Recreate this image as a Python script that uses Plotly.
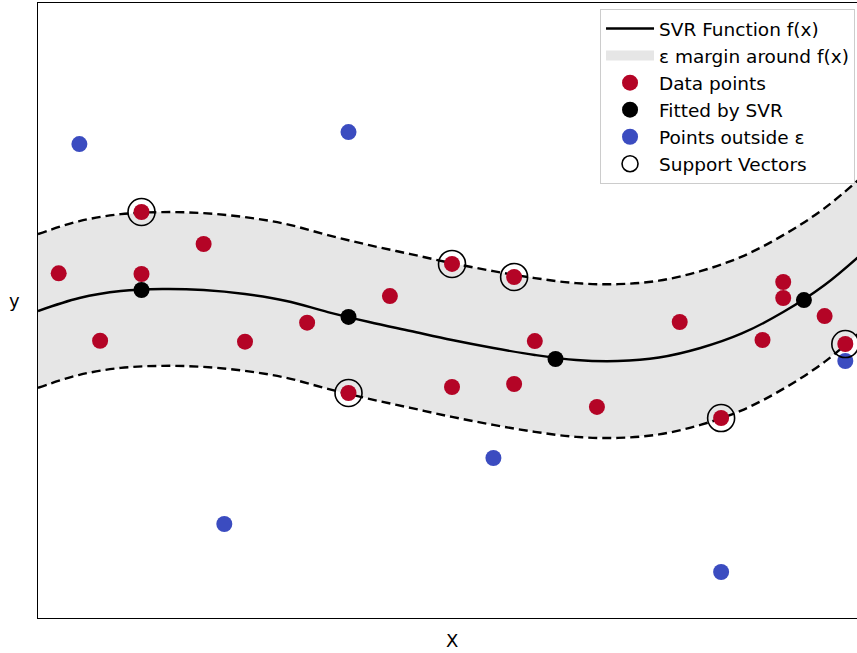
import plotly.graph_objects as go

# ---- data ----
curve_x = [0.0, 0.5, 1.0, 1.5, 2.0, 2.5, 3.0, 3.5, 4.0, 4.5, 5.0,
           5.5, 6.0, 6.5, 7.0, 7.5, 8.0, 8.5, 9.0, 9.5, 10.0]
curve_y = [-0.005, 0.122, 0.190, 0.210, 0.200, 0.161, 0.093, -0.015, -0.112, -0.200, -0.288,
           -0.366, -0.434, -0.483, -0.493, -0.459, -0.366, -0.224, -0.015, 0.249, 0.590]
epsilon = 0.75

data_x = [0.25, 0.75, 1.25, 1.25, 2.0, 2.5, 3.25, 3.75, 4.25, 5.0, 5.0,
          5.75, 5.75, 6.0, 6.75, 7.75, 8.25, 8.75, 9.0, 9.0, 9.5, 9.75]
data_y = [0.363, -0.295, 0.961, 0.356, 0.649, -0.304, -0.119, -0.805, 0.141, -0.746, 0.454,
          -0.717, 0.327, -0.298, -0.941, -0.112, -1.049, -0.288, 0.278, 0.122, -0.054, -0.327]

fit_x = [1.25, 3.75, 6.25, 9.25]
fit_y = [0.200, -0.063, -0.473, 0.102]

out_x = [0.5, 3.75, 2.25, 5.5, 8.25, 9.75]
out_y = [1.624, 1.741, -2.083, -1.439, -2.551, -0.493]

sv_x = [1.25, 3.75, 5.0, 5.75, 8.25, 9.75]
sv_y = [0.961, -0.805, 0.454, 0.327, -1.049, -0.327]

upper = [v + epsilon for v in curve_y]
lower = [v - epsilon for v in curve_y]

RED = "#b40426"
BLUE = "#3b4cc0"
BAND = "#e6e6e6"
FONT = "DejaVu Sans"

fig = go.Figure()

# epsilon band
fig.add_trace(go.Scatter(
    x=curve_x + curve_x[::-1], y=upper + lower[::-1],
    fill="toself", fillcolor=BAND, line=dict(width=0, color="rgba(0,0,0,0)"),
    mode="lines", showlegend=False, hoverinfo="skip"))
# legend swatch for the band
fig.add_trace(go.Scatter(
    x=[None], y=[None], mode="lines", name="ε margin around f(x)", legendrank=2,
    line=dict(color=BAND, width=14)))
# dashed boundaries
for arr in (upper, lower):
    fig.add_trace(go.Scatter(
        x=curve_x, y=arr, mode="lines", showlegend=False,
        line=dict(color="black", width=2.4, dash="9px,5px", shape="spline", smoothing=1)))
# fitted function
fig.add_trace(go.Scatter(
    x=curve_x, y=curve_y, mode="lines", name="SVR Function f(x)", legendrank=1,
    line=dict(color="black", width=2.4, shape="spline", smoothing=1)))
# outside points
fig.add_trace(go.Scatter(
    x=out_x, y=out_y, mode="markers", name="Points outside ε", legendrank=5,
    marker=dict(color=BLUE, size=16, line=dict(width=0))))
# data points
fig.add_trace(go.Scatter(
    x=data_x, y=data_y, mode="markers", name="Data points", legendrank=3,
    marker=dict(color=RED, size=16, line=dict(width=0))))
# fitted points
fig.add_trace(go.Scatter(
    x=fit_x, y=fit_y, mode="markers", name="Fitted by SVR", legendrank=4,
    marker=dict(color="black", size=16, line=dict(width=0))))
# support vectors
fig.add_trace(go.Scatter(
    x=sv_x, y=sv_y, mode="markers", name="Support Vectors", legendrank=6,
    marker=dict(color="rgba(0,0,0,0)", size=27, line=dict(color="black", width=1.6))))

fig.update_layout(
    width=857, height=653,
    margin=dict(l=38, r=0, t=3, b=35),
    paper_bgcolor="white", plot_bgcolor="white",
    font=dict(family=FONT, size=18, color="black"),
    showlegend=True,
    legend=dict(x=0.9976, y=(618 - 9) / 615, xanchor="right", yanchor="top",
                bgcolor="rgba(255,255,255,0.8)", bordercolor="#cccccc", borderwidth=1,
                font=dict(family=FONT, size=18.5), tracegroupgap=0, itemwidth=48),
    xaxis=dict(range=[0, 9.891], showgrid=False, zeroline=False, showticklabels=False,
               ticks="", showline=True, linecolor="black", linewidth=1.2, mirror=True),
    yaxis=dict(range=[-3, 3], showgrid=False, zeroline=False, showticklabels=False,
               ticks="", showline=True, linecolor="black", linewidth=1.2, mirror=False),
    annotations=[
        dict(text="X", xref="paper", yref="paper", x=(452 - 38) / 819, y=-(640 - 618) / 615,
             xanchor="center", yanchor="middle", showarrow=False, font=dict(size=18)),
        dict(text="y", xref="paper", yref="paper", x=-(38 - 14) / 819, y=(618 - 301) / 615,
             xanchor="center", yanchor="middle", showarrow=False, font=dict(size=18)),
    ],
)

fig.write_html("out.html")
